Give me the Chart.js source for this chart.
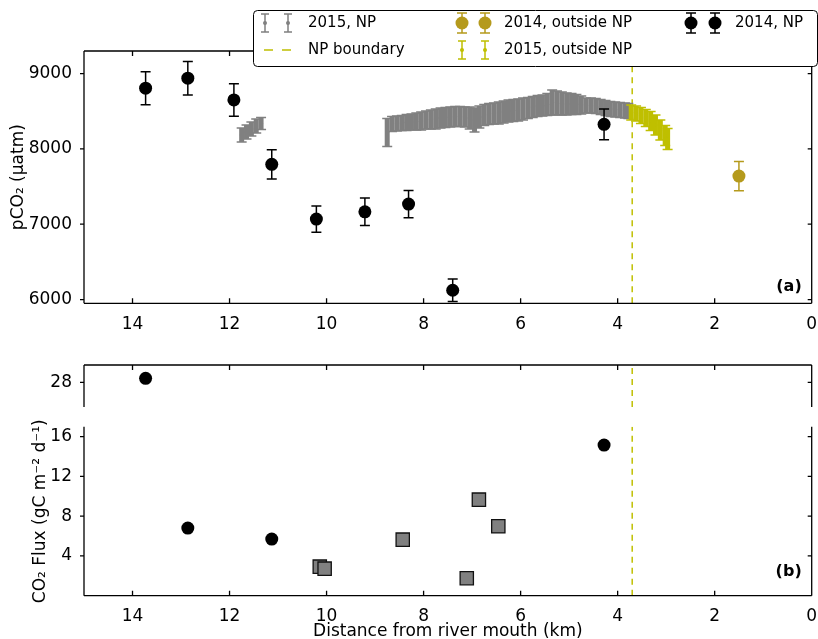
<!DOCTYPE html>
<html>
<head>
<meta charset="utf-8">
<script src="https://cdn.jsdelivr.net/npm/chart.js@4.4.0/dist/chart.umd.min.js"></script>
<style>
  body { margin: 0; background: #fff; }
  #wrap { position: relative; width: 818px; height: 639px; overflow: hidden; }
  canvas { position: absolute; left: 0; }
</style>
</head>
<body>
<div id="wrap">
  <canvas id="pco2Chart" width="818" height="345" style="top:0"></canvas>
  <canvas id="fluxHighChart" width="818" height="60" style="top:355px"></canvas>
  <canvas id="fluxLowChart" width="818" height="245" style="top:400px"></canvas>
</div>
<script>
// ---- data ----
const distTicks = [14, 12, 10, 8, 6, 4, 2, 0];
const pco2Ticks = [6000, 7000, 8000, 9000];
const fluxHighTicks = [28];
const fluxLowTicks = [4, 8, 12, 16];
const distRange = [0, 15];
const pco2Range = [5950, 9300];
const fluxHighRange = [25.5, 29.75];
const fluxLowRange = [0, 17];
const npBoundary = 3.7;

// (a) pCO2, 2014 inside the national park
const npDist2014 = [13.73, 12.86, 11.91, 11.13, 10.21, 9.21, 8.31, 7.40, 4.28];
const npPco2_2014 = [8806, 8939, 8650, 7795, 7068, 7165, 7267, 6123, 8327];
const npErr2014 = [219, 222, 215, 193, 175, 182, 180, 150, 204];

// (a) pCO2, 2014 outside
const outDist2014 = [1.50];
const outPco2_2014 = [7639];
const outErr2014 = [195];

// (a) pCO2, 2015 inside (continuous survey)
const npDist2015 = [11.75, 11.65, 11.55, 11.45, 11.35,
  8.75, 8.65, 8.55, 8.45, 8.35, 8.25, 8.15, 8.05, 7.95, 7.85, 7.75, 7.65, 7.55, 7.45, 7.35,
  7.25, 7.15, 7.05, 6.95, 6.85, 6.75, 6.65, 6.55, 6.45, 6.35, 6.25, 6.15, 6.05, 5.95, 5.85,
  5.75, 5.65, 5.55, 5.45, 5.35, 5.25, 5.15, 5.05, 4.95, 4.85, 4.75, 4.65, 4.55, 4.45, 4.35,
  4.25, 4.15, 4.05, 3.95, 3.85, 3.78];
const npPco2_2015 = [8185, 8224, 8264, 8304, 8338,
  8218, 8331, 8338, 8344, 8351, 8358, 8364, 8371, 8384, 8391, 8398, 8411, 8417, 8424, 8431,
  8431, 8424, 8411, 8384, 8424, 8451, 8464, 8471, 8477, 8491, 8504, 8511, 8517, 8530, 8544,
  8557, 8570, 8577, 8590, 8617, 8610, 8604, 8597, 8597, 8590, 8584, 8577, 8577, 8570, 8557,
  8544, 8530, 8524, 8517, 8511, 8504];
const npErr2015 = [93, 93, 93, 93, 80,
  186, 100, 100, 100, 106, 106, 113, 120, 120, 126, 133, 133, 133, 133, 133,
  133, 133, 146, 160, 146, 140, 140, 140, 146, 146, 146, 146, 146, 146, 140,
  140, 140, 140, 146, 166, 160, 153, 146, 140, 133, 120, 100, 100, 100, 100,
  100, 100, 100, 100, 100, 100];

// (a) pCO2, 2015 outside
const outDist2015 = [3.72, 3.62, 3.52, 3.42, 3.32, 3.22, 3.12, 3.02, 2.97];
const outPco2_2015 = [8484, 8471, 8444, 8411, 8371, 8318, 8251, 8178, 8132];
const outErr2015 = [100, 100, 106, 113, 126, 133, 133, 133, 140];

// (b) CO2 flux
const fluxDist2014 = [13.73, 12.86, 11.13, 4.28];
const flux2014 = [28.4, 6.8, 5.7, 15.15];
const fluxDist2015 = [10.14, 10.04, 8.43, 7.11, 6.86, 6.46];
const flux2015 = [2.92, 2.72, 5.64, 1.76, 9.66, 6.98];

// ---- styling ----
const FONT = "'DejaVu Sans', sans-serif";
const BLACK = '#000000';
const GRAY = '#808080';
const YELLOW = '#bfbf00';
const OLIVE = '#b59a1c';

Chart.defaults.font.family = FONT;
Chart.defaults.color = '#000';

function pts(xs, ys) {
  return xs.map(function (x, i) { return { x: x, y: ys[i] }; });
}

function fixTicks(values) {
  return function (scale) {
    scale.ticks = values.map(function (v) { return { value: v }; });
  };
}

// vertical error bars drawn under each dataset's markers
const errorBarPlugin = {
  id: 'errorBars',
  beforeDatasetDraw(chart, args) {
    const ds = chart.data.datasets[args.index];
    if (!ds.errors) return;
    const ctx = chart.ctx, a = chart.chartArea;
    const x = chart.scales.x, y = chart.scales.y;
    ctx.save();
    ctx.beginPath();
    ctx.rect(a.left, a.top, a.right - a.left, a.bottom - a.top);
    ctx.clip();
    ctx.strokeStyle = ds.errColor;
    ds.data.forEach(function (p, i) {
      const px = x.getPixelForValue(p.x);
      const top = y.getPixelForValue(p.y + ds.errors[i]);
      const bot = y.getPixelForValue(p.y - ds.errors[i]);
      ctx.lineWidth = ds.errWidth;
      ctx.beginPath();
      ctx.moveTo(px, top);
      ctx.lineTo(px, bot);
      ctx.stroke();
      ctx.lineWidth = 1.5;
      ctx.beginPath();
      ctx.moveTo(px - ds.capHalf, top);
      ctx.lineTo(px + ds.capHalf, top);
      ctx.moveTo(px - ds.capHalf, bot);
      ctx.lineTo(px + ds.capHalf, bot);
      ctx.stroke();
    });
    ctx.restore();
  }
};

// spines, inward ticks and panel tag
const framePlugin = {
  id: 'frame',
  afterDraw(chart, args, o) {
    const ctx = chart.ctx, a = chart.chartArea;
    const x = chart.scales.x, y = chart.scales.y;
    ctx.save();
    ctx.strokeStyle = '#000';
    ctx.lineWidth = 1.3;
    ctx.beginPath();
    ctx.moveTo(a.left, a.top); ctx.lineTo(a.left, a.bottom);
    ctx.moveTo(a.right, a.top); ctx.lineTo(a.right, a.bottom);
    if (o.top) { ctx.moveTo(a.left, a.top); ctx.lineTo(a.right, a.top); }
    if (o.bottom) { ctx.moveTo(a.left, a.bottom); ctx.lineTo(a.right, a.bottom); }
    distTicks.forEach(function (v) {
      const px = x.getPixelForValue(v);
      if (o.top) { ctx.moveTo(px, a.top); ctx.lineTo(px, a.top + 5); }
      if (o.bottom) { ctx.moveTo(px, a.bottom); ctx.lineTo(px, a.bottom - 5); }
    });
    o.yTicks.forEach(function (v) {
      const py = y.getPixelForValue(v);
      ctx.moveTo(a.left - 4, py); ctx.lineTo(a.left, py);
      ctx.moveTo(a.right, py); ctx.lineTo(a.right - 4, py);
    });
    ctx.stroke();
    if (o.tag) {
      ctx.fillStyle = '#000';
      ctx.font = 'bold 16px ' + FONT;
      ctx.textAlign = 'right';
      ctx.textBaseline = 'middle';
      ctx.fillText(o.tag, a.right - 10, a.bottom - o.tagOffset);
    }
    ctx.restore();
  }
};

function legendMarker(ctx, x, y, color, radius, half, cap) {
  ctx.strokeStyle = color;
  ctx.fillStyle = color;
  ctx.lineWidth = 1.5;
  ctx.beginPath();
  ctx.moveTo(x, y - half); ctx.lineTo(x, y + half);
  ctx.moveTo(x - cap, y - half); ctx.lineTo(x + cap, y - half);
  ctx.moveTo(x - cap, y + half); ctx.lineTo(x + cap, y + half);
  ctx.stroke();
  ctx.beginPath();
  ctx.arc(x, y, radius, 0, Math.PI * 2);
  ctx.fill();
}

const legendPlugin = {
  id: 'boxLegend',
  afterDraw(chart) {
    const ctx = chart.ctx;
    const L = 253.5, T = 10.5, R = 817.5, B = 66.5, r = 4;
    ctx.save();
    ctx.beginPath();
    ctx.moveTo(L + r, T);
    ctx.arcTo(R, T, R, B, r);
    ctx.arcTo(R, B, L, B, r);
    ctx.arcTo(L, B, L, T, r);
    ctx.arcTo(L, T, R, T, r);
    ctx.closePath();
    ctx.fillStyle = '#fff';
    ctx.fill();
    ctx.strokeStyle = '#000';
    ctx.lineWidth = 1;
    ctx.stroke();

    const row1 = 23, row2 = 50;
    legendMarker(ctx, 265, row1, GRAY, 2, 9, 4);
    legendMarker(ctx, 288, row1, GRAY, 2, 9, 4);
    legendMarker(ctx, 462, row1, OLIVE, 6.5, 10, 5);
    legendMarker(ctx, 485, row1, OLIVE, 6.5, 10, 5);
    legendMarker(ctx, 691, row1, BLACK, 6.5, 10, 5);
    legendMarker(ctx, 715, row1, BLACK, 6.5, 10, 5);
    legendMarker(ctx, 462, row2, YELLOW, 2, 9, 4);
    legendMarker(ctx, 485, row2, YELLOW, 2, 9, 4);
    ctx.strokeStyle = YELLOW;
    ctx.lineWidth = 1.5;
    ctx.setLineDash([9, 9]);
    ctx.beginPath();
    ctx.moveTo(264, row2); ctx.lineTo(292, row2);
    ctx.stroke();
    ctx.setLineDash([]);

    ctx.fillStyle = '#000';
    ctx.font = '15px ' + FONT;
    ctx.textAlign = 'left';
    ctx.textBaseline = 'middle';
    ctx.fillText('2015, NP', 308, row1);
    ctx.fillText('2014, outside NP', 504, row1);
    ctx.fillText('2014, NP', 735, row1);
    ctx.fillText('NP boundary', 308, row2);
    ctx.fillText('2015, outside NP', 504, row2);
    ctx.restore();
  }
};

function boundaryLine(range) {
  return {
    label: 'NP boundary',
    data: [{ x: npBoundary, y: range[0] }, { x: npBoundary, y: range[1] }],
    showLine: true,
    borderColor: YELLOW,
    borderWidth: 1.5,
    borderDash: [6, 5],
    pointRadius: 0
  };
}

function plainLabel(v) { return String(v); }

function xScale(show, height) {
  const s = {
    type: 'linear', reverse: true, min: distRange[0], max: distRange[1],
    display: show,
    afterBuildTicks: fixTicks(distTicks),
    grid: { display: false }, border: { display: false },
    ticks: { font: { size: 17 }, padding: 3, maxRotation: 0, autoSkip: false, callback: plainLabel }
  };
  s.afterFit = function (axis) {
    if (show) axis.height = height;
    axis.paddingLeft = 0;
    axis.paddingRight = 0;
  };
  return s;
}

function yScale(range, ticks, title, titlePad) {
  return {
    type: 'linear', min: range[0], max: range[1],
    afterBuildTicks: fixTicks(ticks),
    afterFit: function (axis) {
      axis.width = 84;
      axis.paddingTop = 0;
      axis.paddingBottom = 0;
    },
    grid: { display: false }, border: { display: false },
    ticks: { font: { size: 17 }, padding: 4, callback: plainLabel },
    title: { display: !!title, text: title, font: { size: 17 }, padding: { top: titlePad, bottom: 0 } }
  };
}

const common = {
  responsive: false,
  animation: false,
  events: [],
  plugins: { legend: { display: false }, tooltip: { enabled: false } }
};

// ---- (a) pCO2 ----
new Chart(document.getElementById('pco2Chart'), {
  type: 'scatter',
  data: {
    datasets: [
      { label: '2014, NP', data: pts(npDist2014, npPco2_2014), errors: npErr2014,
        errColor: BLACK, errWidth: 1.5, capHalf: 5,
        pointRadius: 6.5, pointBackgroundColor: BLACK, pointBorderWidth: 0 },
      { label: '2014, outside NP', data: pts(outDist2014, outPco2_2014), errors: outErr2014,
        errColor: OLIVE, errWidth: 1.5, capHalf: 5,
        pointRadius: 6.5, pointBackgroundColor: OLIVE, pointBorderWidth: 0 },
      { label: '2015, outside NP', data: pts(outDist2015, outPco2_2015), errors: outErr2015,
        errColor: YELLOW, errWidth: 5, capHalf: 5,
        pointRadius: 2, pointBackgroundColor: YELLOW, pointBorderWidth: 0 },
      { label: '2015, NP', data: pts(npDist2015, npPco2_2015), errors: npErr2015,
        errColor: GRAY, errWidth: 5, capHalf: 5,
        pointRadius: 2, pointBackgroundColor: GRAY, pointBorderWidth: 0 },
      boundaryLine(pco2Range)
    ]
  },
  options: Object.assign({}, common, {
    layout: { autoPadding: false, padding: { left: 0, right: 6.3, top: 51, bottom: 0 } },
    scales: {
      x: xScale(true, 41.7),
      y: yScale(pco2Range, pco2Ticks, 'pCO\u2082 (\u03BCatm)', 8.8)
    },
    plugins: Object.assign({}, common.plugins, {
      frame: { top: true, bottom: true, yTicks: pco2Ticks, tag: '(a)', tagOffset: 16.6 }
    })
  }),
  plugins: [errorBarPlugin, framePlugin, legendPlugin]
});

// ---- (b) flux, upper part of the broken axis ----
function fluxDatasets(range) {
  return [
    { label: '2014, NP', data: pts(fluxDist2014, flux2014),
      pointRadius: 6.5, pointBackgroundColor: BLACK, pointBorderWidth: 0 },
    { label: '2015, NP', data: pts(fluxDist2015, flux2015), pointStyle: 'rect',
      pointRadius: 9.4, pointBackgroundColor: GRAY, pointBorderColor: '#111', pointBorderWidth: 1.3 },
    boundaryLine(range)
  ];
}

new Chart(document.getElementById('fluxHighChart'), {
  type: 'scatter',
  data: { datasets: fluxDatasets(fluxHighRange) },
  options: Object.assign({}, common, {
    layout: { autoPadding: false, padding: { left: 0, right: 6.3, top: 10, bottom: 8 } },
    scales: {
      x: xScale(false),
      y: yScale(fluxHighRange, fluxHighTicks, '', 0)
    },
    plugins: Object.assign({}, common.plugins, {
      frame: { top: true, bottom: false, yTicks: fluxHighTicks }
    })
  }),
  plugins: [framePlugin]
});

// ---- (b) flux, lower part ----
new Chart(document.getElementById('fluxLowChart'), {
  type: 'scatter',
  data: { datasets: fluxDatasets(fluxLowRange) },
  options: Object.assign({}, common, {
    layout: { autoPadding: false, padding: { left: 0, right: 6.3, top: 26.7, bottom: 0 } },
    scales: {
      x: Object.assign(xScale(true, 49.3), {
        title: { display: true, text: 'Distance from river mouth (km)', font: { size: 17 }, padding: { top: 0, bottom: 3.3 } }
      }),
      y: yScale(fluxLowRange, fluxLowTicks, 'CO\u2082 Flux (gC m\u207B\u00B2 d\u207B\u00B9)', 30.8)
    },
    plugins: Object.assign({}, common.plugins, {
      frame: { top: false, bottom: true, yTicks: fluxLowTicks, tag: '(b)', tagOffset: 23.7 }
    })
  }),
  plugins: [framePlugin]
});
</script>
</body>
</html>
